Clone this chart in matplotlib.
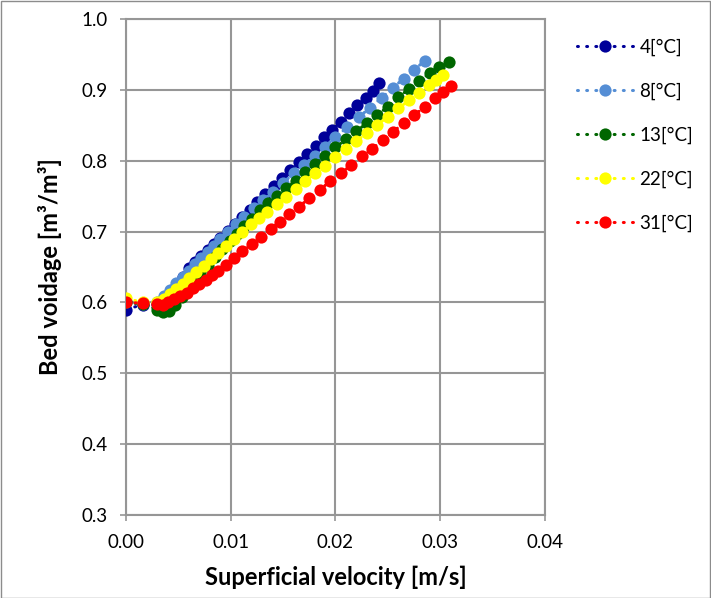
import matplotlib
matplotlib.use("Agg")
import matplotlib.pyplot as plt
from matplotlib.patches import Rectangle

plt.rcParams['font.family'] = ['Lato', 'DejaVu Sans']

labels = ["4[°C]", "8[°C]", "13[°C]", "22[°C]", "31[°C]"]
colors = ["#000099", "#558ED5", "#006600", "#FFFF00", "#FF0000"]

v_4 = [0, 0.0016, 0.0030, 0.0036, 0.0042, 0.0048, 0.0054, 0.0060, 0.0066, 0.0072, 0.0078,
       0.0084, 0.0090, 0.0097, 0.0104, 0.0111, 0.0118, 0.0125, 0.0133, 0.0141, 0.0149,
       0.0157, 0.0165, 0.0173, 0.0181, 0.0189, 0.0197, 0.0205, 0.0213, 0.0221, 0.0229,
       0.0236, 0.0242]
e_4 = [0.590, 0.597, 0.598, 0.601, 0.612, 0.623, 0.636, 0.648, 0.657, 0.665, 0.674,
       0.682, 0.691, 0.701, 0.711, 0.721, 0.731, 0.742, 0.753, 0.765, 0.776,
       0.787, 0.798, 0.810, 0.821, 0.833, 0.844, 0.855, 0.867, 0.878, 0.889,
       0.899, 0.909]

v_8 = [0, 0.0016, 0.0030, 0.0036, 0.0042, 0.0048, 0.0054, 0.0060, 0.0066, 0.0072, 0.0078,
       0.0084, 0.0090, 0.0097, 0.0105, 0.0113, 0.0122, 0.0131, 0.0140, 0.0150, 0.0160,
       0.0170, 0.0180, 0.0190, 0.0200, 0.0211, 0.0222, 0.0233, 0.0244, 0.0255, 0.0265,
       0.0275, 0.0285]
e_8 = [0.600, 0.598, 0.601, 0.609, 0.618, 0.627, 0.636, 0.645, 0.654, 0.662, 0.671,
       0.680, 0.689, 0.700, 0.711, 0.721, 0.733, 0.744, 0.756, 0.769, 0.782,
       0.794, 0.807, 0.820, 0.833, 0.847, 0.861, 0.875, 0.889, 0.903, 0.916,
       0.928, 0.941]

v_13 = [0, 0.0016, 0.0030, 0.0035, 0.0041, 0.0047, 0.0053, 0.0059, 0.0065, 0.0071, 0.0078,
        0.0085, 0.0092, 0.0099, 0.0106, 0.0113, 0.0120, 0.0128, 0.0136, 0.0144, 0.0153,
        0.0162, 0.0171, 0.0180, 0.0190, 0.0200, 0.0210, 0.0220, 0.0230, 0.0240, 0.0250,
        0.0260, 0.0270, 0.0280, 0.0290, 0.0299, 0.0308]
e_13 = [0.600, 0.598, 0.590, 0.587, 0.588, 0.596, 0.608, 0.619, 0.630, 0.641, 0.652,
        0.664, 0.675, 0.686, 0.697, 0.708, 0.718, 0.730, 0.740, 0.750, 0.761,
        0.772, 0.784, 0.795, 0.807, 0.819, 0.830, 0.842, 0.853, 0.865, 0.876,
        0.890, 0.901, 0.912, 0.924, 0.932, 0.939]

v_22 = [0, 0.0016, 0.0030, 0.0036, 0.0042, 0.0048, 0.0054, 0.0060, 0.0067, 0.0074, 0.0081,
        0.0088, 0.0095, 0.0103, 0.0111, 0.0119, 0.0127, 0.0135, 0.0144, 0.0153, 0.0162,
        0.0171, 0.0180, 0.0190, 0.0200, 0.0210, 0.0220, 0.0230, 0.0240, 0.0250, 0.0260,
        0.0270, 0.0280, 0.0289, 0.0296, 0.0303]
e_22 = [0.606, 0.600, 0.600, 0.605, 0.612, 0.619, 0.626, 0.634, 0.643, 0.652, 0.661,
        0.670, 0.679, 0.689, 0.699, 0.710, 0.719, 0.728, 0.739, 0.749, 0.760,
        0.771, 0.782, 0.793, 0.805, 0.816, 0.828, 0.839, 0.851, 0.862, 0.874,
        0.885, 0.896, 0.907, 0.914, 0.921]

v_31 = [0, 0.0016, 0.0030, 0.0035, 0.0040, 0.0046, 0.0052, 0.0058, 0.0064, 0.0070, 0.0076,
        0.0082, 0.0088, 0.0095, 0.0103, 0.0111, 0.0120, 0.0129, 0.0138, 0.0147, 0.0156,
        0.0165, 0.0175, 0.0185, 0.0195, 0.0205, 0.0215, 0.0225, 0.0235, 0.0245, 0.0255,
        0.0265, 0.0275, 0.0285, 0.0295, 0.0303, 0.0310]
e_31 = [0.600, 0.599, 0.598, 0.597, 0.600, 0.605, 0.609, 0.614, 0.620, 0.626, 0.632,
        0.639, 0.645, 0.653, 0.663, 0.672, 0.683, 0.693, 0.704, 0.714, 0.725,
        0.735, 0.747, 0.759, 0.771, 0.782, 0.794, 0.806, 0.817, 0.829, 0.841,
        0.853, 0.864, 0.876, 0.888, 0.897, 0.905]

series_v = [v_4, v_8, v_13, v_22, v_31]
series_e = [e_4, e_8, e_13, e_22, e_31]

xticks = [0.00, 0.01, 0.02, 0.03, 0.04]
yticks = [0.3, 0.4, 0.5, 0.6, 0.7, 0.8, 0.9, 1.0]

W, H = 711, 598
fig = plt.figure(figsize=(W / 100, H / 100), dpi=100)
ax = fig.add_axes([126 / W, 1 - 515 / H, (545 - 126) / W, (515 - 19) / H])

handles = []
for v, e, c, lab in zip(series_v, series_e, colors, labels):
    h, = ax.plot(v, e, color=c, linestyle=(0, (0.3, 2.7)), linewidth=2.2,
                 dash_capstyle='round', marker='o', markersize=8.8,
                 markeredgewidth=0, label=lab, zorder=3)
    handles.append(h)

ax.set_xlim(0, 0.04)
ax.set_ylim(0.3, 1.0)
ax.set_xticks(xticks)
ax.set_xticklabels([f"{t:.2f}" for t in xticks])
ax.set_yticks(yticks)
ax.set_yticklabels([f"{t:.1f}" for t in yticks])
ax.grid(True, color="#969696", linewidth=1.5, zorder=0)
ax.set_axisbelow(True)
for s in ax.spines.values():
    s.set_color("#969696")
    s.set_linewidth(1.5)
ax.tick_params(length=4, width=1.2, color="#969696", labelsize=13.5, pad=9,
               labelcolor="#000000")
ax.tick_params(axis='x', pad=10)
ax.set_xlabel("Superficial velocity [m/s]", fontsize=17, fontweight='bold', labelpad=10)
ax.set_ylabel("Bed voidage [m³/m³]", fontsize=17, fontweight='bold', labelpad=14)

leg = fig.legend(handles=handles, loc='upper left', bbox_to_anchor=(569 / W, 1 - 31 / H),
                 frameon=False, fontsize=13.5, labelspacing=1.42, handlelength=3.0,
                 handletextpad=0.35, borderaxespad=0)

fig.patches.append(Rectangle((0.5 / W, 0.5 / H), 1 - 1.5 / W, 1 - 1.5 / H,
                             transform=fig.transFigure, fill=False,
                             edgecolor="#8c8c8c", linewidth=1.0))

fig.savefig("out.png", dpi=100)
